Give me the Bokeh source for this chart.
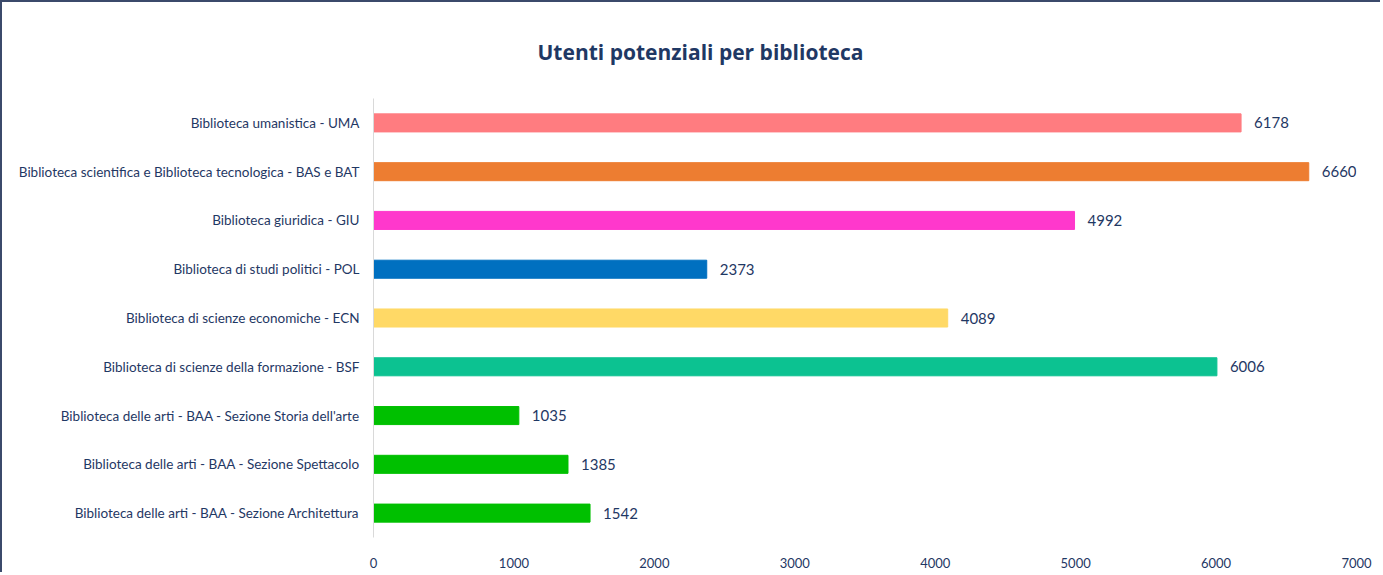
from bokeh.plotting import figure
from bokeh.models import ColumnDataSource, FactorRange, LabelSet, FixedTicker
from bokeh.core.properties import value
from bokeh.embed import file_html
from bokeh.resources import INLINE

libraries = [
    "Biblioteca umanistica - UMA",
    "Biblioteca scientifica e Biblioteca tecnologica - BAS e BAT",
    "Biblioteca giuridica - GIU",
    "Biblioteca di studi politici - POL",
    "Biblioteca di scienze economiche - ECN",
    "Biblioteca di scienze della formazione - BSF",
    "Biblioteca delle arti - BAA - Sezione Storia dell'arte",
    "Biblioteca delle arti - BAA - Sezione Spettacolo",
    "Biblioteca delle arti - BAA - Sezione Architettura",
]
users = [6178, 6660, 4992, 2373, 4089, 6006, 1035, 1385, 1542]
colors = ["#FF7C80", "#ED7D31", "#FF38CC", "#0070C0", "#FFD966",
          "#0CC291", "#00C000", "#00C000", "#00C000"]
x_ticks = [0, 1000, 2000, 3000, 4000, 5000, 6000, 7000]
title_text = "Utenti potenziali per biblioteca"

NAVY = "#1F3864"
FONT = "Lato"

source = ColumnDataSource(dict(lib=libraries, users=users, color=colors,
                               label=[str(u) for u in users]))

p = figure(
    width=1380, height=572,
    y_range=FactorRange(factors=list(reversed(libraries))),
    x_range=(0, 7000),
    output_backend="svg", toolbar_location=None,
    title=title_text,
    min_border_left=371, min_border_right=26,
    min_border_top=96, min_border_bottom=37,
    styles={"border-top": "2px solid #3B4A6B", "border-left": "2px solid #3B4A6B"},
)

p.title.align = "left"
p.title.offset = 164
p.title.standoff = 66
p.title.text_font = "Open Sans"
p.title.text_font_size = "21px"
p.title.text_font_style = "bold"
p.title.text_color = NAVY

p.hbar(y="lib", right="users", left=0, height=0.37, color="color", source=source)

labels = LabelSet(x="users", y="lib", text="label", source=source,
                  x_offset=13, text_baseline="middle", text_align="left",
                  text_font=value(FONT), text_font_size="15px", text_color=NAVY)
p.add_layout(labels)

p.xgrid.visible = False
p.ygrid.visible = False
p.outline_line_color = None

p.xaxis.ticker = FixedTicker(ticks=x_ticks)
p.xaxis.axis_line_color = None
p.xaxis.major_tick_line_color = None
p.xaxis.minor_tick_line_color = None
p.xaxis.major_label_text_font = FONT
p.xaxis.major_label_text_font_size = "13px"
p.xaxis.major_label_text_color = NAVY
p.xaxis.major_label_standoff = 14

p.yaxis.axis_line_color = "#D9D9D9"
p.yaxis.major_tick_line_color = None
p.yaxis.minor_tick_line_color = None
p.yaxis.major_label_text_font = FONT
p.yaxis.major_label_text_font_size = "13.5px"
p.yaxis.major_label_text_color = NAVY
p.yaxis.major_label_standoff = 8

open("out.html", "w").write(file_html(p, INLINE))
